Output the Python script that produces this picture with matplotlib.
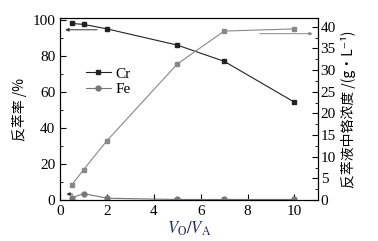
import matplotlib
matplotlib.use("Agg")
import matplotlib.pyplot as plt
from matplotlib.ticker import MultipleLocator

# data
ratio = [0.5, 1, 2, 5, 7, 10]
cr_rate = [98, 97.5, 95, 86, 77, 54.3]
fe_rate = [1.2, 3.6, 1.0, 0.3, 0.3, 0.3]
cr_conc = [3.5, 7.0, 13.7, 31.4, 39.0, 39.5]

serif = ['Liberation Serif', 'DejaVu Serif']
cjk = ['Noto Sans CJK SC', 'DejaVu Sans']
plt.rcParams['font.family'] = serif
plt.rcParams['mathtext.fontset'] = 'stix'

fig = plt.figure(figsize=(3.78, 2.41), dpi=100)
ax = fig.add_axes([0.159, 0.170, 0.682, 0.755])
ax2 = ax.twinx()

ax.plot(ratio, cr_rate, color='#222222', lw=0.8, marker='s', ms=3.5, label='Cr')
ax.plot(ratio, fe_rate, color='#777777', lw=0.8, marker='o', ms=3.5, label='Fe')
ax2.plot(ratio, cr_conc, color='#888888', lw=0.8, marker='s', ms=3.5)

ax.set_xlim(0, 11)
ax.set_ylim(0, 101)
ax2.set_ylim(0, 42)

ax.xaxis.set_major_locator(MultipleLocator(2))
ax.yaxis.set_major_locator(MultipleLocator(20))
ax.yaxis.set_minor_locator(MultipleLocator(10))
ax2.yaxis.set_major_locator(MultipleLocator(5))
ax2.yaxis.set_minor_locator(MultipleLocator(2.5))

ax.tick_params(axis='both', which='both', direction='in', labelsize=11, top=False)
ax.tick_params(which='major', length=4)
ax.tick_params(which='minor', length=2)
ax2.tick_params(axis='y', which='both', direction='in', labelsize=11, pad=2)
ax2.tick_params(which='major', length=4)
ax2.tick_params(which='minor', length=2)

# arrows pointing to the axis each curve belongs to
arrow = dict(arrowstyle='-|>', color='#333333', lw=0.7, mutation_scale=5)
ax.annotate('', xy=(0.1, 94.5), xytext=(1.7, 94.5), arrowprops=arrow)
ax.annotate('', xy=(0.15, 3.3), xytext=(0.65, 3.3), arrowprops=arrow)
arrow2 = dict(arrow, color='#888888')
ax2.annotate('', xy=(10.9, 38.4), xytext=(8.4, 38.4), arrowprops=arrow2)

ax.legend(loc='upper left', bbox_to_anchor=(0.06, 0.79), frameon=False,
          fontsize=11, handlelength=1.6, handletextpad=0.3, labelspacing=0.1,
          borderpad=0.2)

ax.set_xlabel(r'$V_\mathrm{O}/V_\mathrm{A}$', fontsize=12, color='#1f2f5f', labelpad=1)
ax.set_ylabel('反萃率 /%', family=cjk, fontsize=10, labelpad=4)
ax2.set_ylabel('反萃液中铬浓度 /(g·L⁻¹)', family=cjk, fontsize=10, labelpad=4)

fig.savefig('out.png', dpi=100)
